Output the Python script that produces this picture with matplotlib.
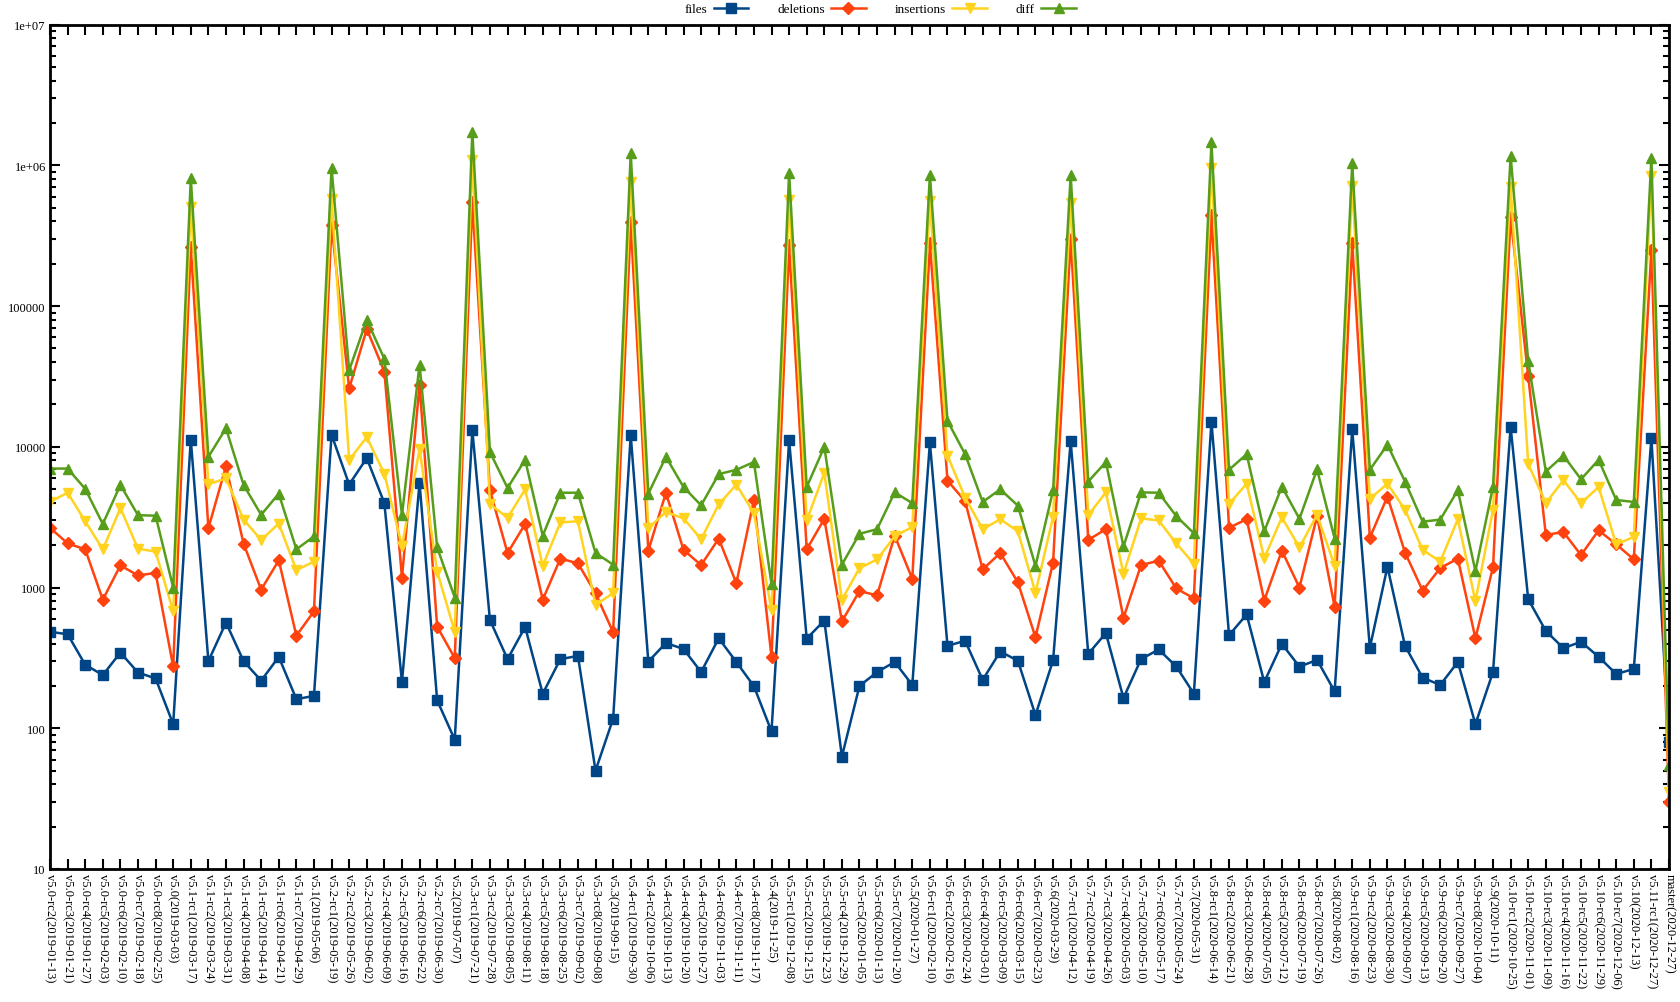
import matplotlib
matplotlib.use("Agg")
import matplotlib.pyplot as plt
from matplotlib.ticker import FixedLocator, FixedFormatter, LogLocator, NullFormatter

labels = [
    "v5.0-rc2(2019-01-13)", "v5.0-rc3(2019-01-21)", "v5.0-rc4(2019-01-27)", "v5.0-rc5(2019-02-03)",
    "v5.0-rc6(2019-02-10)", "v5.0-rc7(2019-02-18)", "v5.0-rc8(2019-02-25)", "v5.0(2019-03-03)",
    "v5.1-rc1(2019-03-17)", "v5.1-rc2(2019-03-24)", "v5.1-rc3(2019-03-31)", "v5.1-rc4(2019-04-08)",
    "v5.1-rc5(2019-04-14)", "v5.1-rc6(2019-04-21)", "v5.1-rc7(2019-04-29)", "v5.1(2019-05-06)",
    "v5.2-rc1(2019-05-19)", "v5.2-rc2(2019-05-26)", "v5.2-rc3(2019-06-02)", "v5.2-rc4(2019-06-09)",
    "v5.2-rc5(2019-06-16)", "v5.2-rc6(2019-06-22)", "v5.2-rc7(2019-06-30)", "v5.2(2019-07-07)",
    "v5.3-rc1(2019-07-21)", "v5.3-rc2(2019-07-28)", "v5.3-rc3(2019-08-05)", "v5.3-rc4(2019-08-11)",
    "v5.3-rc5(2019-08-18)", "v5.3-rc6(2019-08-25)", "v5.3-rc7(2019-09-02)", "v5.3-rc8(2019-09-08)",
    "v5.3(2019-09-15)",
    "v5.4-rc1(2019-09-30)", "v5.4-rc2(2019-10-06)", "v5.4-rc3(2019-10-13)", "v5.4-rc4(2019-10-20)",
    "v5.4-rc5(2019-10-27)", "v5.4-rc6(2019-11-03)", "v5.4-rc7(2019-11-11)", "v5.4-rc8(2019-11-17)",
    "v5.4(2019-11-25)",
    "v5.5-rc1(2019-12-08)", "v5.5-rc2(2019-12-15)", "v5.5-rc3(2019-12-23)", "v5.5-rc4(2019-12-29)",
    "v5.5-rc5(2020-01-05)", "v5.5-rc6(2020-01-13)", "v5.5-rc7(2020-01-20)", "v5.5(2020-01-27)",
    "v5.6-rc1(2020-02-10)", "v5.6-rc2(2020-02-16)", "v5.6-rc3(2020-02-24)", "v5.6-rc4(2020-03-01)",
    "v5.6-rc5(2020-03-09)", "v5.6-rc6(2020-03-15)", "v5.6-rc7(2020-03-23)", "v5.6(2020-03-29)",
    "v5.7-rc1(2020-04-12)", "v5.7-rc2(2020-04-19)", "v5.7-rc3(2020-04-26)", "v5.7-rc4(2020-05-03)",
    "v5.7-rc5(2020-05-10)", "v5.7-rc6(2020-05-17)", "v5.7-rc7(2020-05-24)", "v5.7(2020-05-31)",
    "v5.8-rc1(2020-06-14)", "v5.8-rc2(2020-06-21)", "v5.8-rc3(2020-06-28)", "v5.8-rc4(2020-07-05)",
    "v5.8-rc5(2020-07-12)", "v5.8-rc6(2020-07-19)", "v5.8-rc7(2020-07-26)", "v5.8(2020-08-02)",
    "v5.9-rc1(2020-08-16)", "v5.9-rc2(2020-08-23)", "v5.9-rc3(2020-08-30)", "v5.9-rc4(2020-09-07)",
    "v5.9-rc5(2020-09-13)", "v5.9-rc6(2020-09-20)", "v5.9-rc7(2020-09-27)", "v5.9-rc8(2020-10-04)",
    "v5.9(2020-10-11)",
    "v5.10-rc1(2020-10-25)", "v5.10-rc2(2020-11-01)", "v5.10-rc3(2020-11-09)", "v5.10-rc4(2020-11-16)",
    "v5.10-rc5(2020-11-22)", "v5.10-rc6(2020-11-29)", "v5.10-rc7(2020-12-06)", "v5.10(2020-12-13)",
    "v5.11-rc1(2020-12-27)", "master(2020-12-27)",
]

files = [485, 466, 283, 239, 345, 249, 226, 107,
         11270, 300, 564, 300, 218, 322, 161, 170,
         12190, 5400, 8320, 3980, 213, 5560, 158, 83,
         13100, 588, 310, 525, 176, 310, 327, 50, 117,
         12100, 298, 404, 366, 251, 436, 296, 199, 95,
         11120, 434, 583, 63, 200, 251, 296, 203,
         10740, 385, 419, 221, 351, 302, 124, 304,
         10960, 338, 475, 164, 310, 363, 275, 176,
         15070, 459, 644, 213, 398, 274, 306, 183,
         13300, 373, 1406, 385, 229, 203, 296, 107, 251,
         13870, 826, 492, 371, 412, 322, 243, 264,
         11530, 80]

deletions = [2660, 2060, 1870, 820, 1436, 1220, 1270, 275,
             264000, 2640, 7280, 2050, 966, 1563, 455, 678,
             376000, 26000, 68700, 34300, 1178, 27700, 528, 315,
             547000, 4920, 1760, 2830, 820, 1607, 1487, 912, 482,
             393000, 1830, 4720, 1853, 1445, 2230, 1075, 4190, 322,
             270000, 1866, 3080, 575, 944, 881, 2340, 1153,
             279000, 5750, 4120, 1346, 1760, 1089, 443, 1507,
             300000, 2180, 2600, 609, 1445, 1552, 986, 838,
             443000, 2660, 3060, 809, 1830, 1000, 3220, 728,
             279000, 2260, 4430, 1774, 951, 1375, 1607, 436, 1396,
             428000, 31700, 2370, 2480, 1702, 2550, 2030, 1585,
             251000, 30]

insertions = [4070, 4720, 2960, 1870, 3660, 1890, 1800, 678,
              510000, 5430, 5960, 3040, 2180, 2850, 1330, 1530,
              575000, 8090, 11700, 6450, 1960, 9660, 1300, 485,
              1090000, 3930, 3130, 4990, 1425, 2900, 2960, 754, 912,
              764000, 2640, 3450, 3100, 2210, 3900, 5390, 3380, 692,
              567000, 3000, 6530, 820, 1375, 1585, 2310, 2700,
              556000, 8670, 4360, 2600, 3060, 2510, 918, 3180,
              540000, 3270, 4750, 1253, 3100, 3000, 2060, 1476,
              966000, 3930, 5470, 1618, 3150, 1930, 3290, 1425,
              716000, 4270, 5470, 3580, 1853, 1530, 3060, 798, 3580,
              702000, 7540, 3980, 5800, 3980, 5180, 2030, 2290,
              837000, 35]

diff = [7010, 7010, 5030, 2830, 5360, 3270, 3240, 1000,
        809000, 8490, 13550, 5360, 3290, 4650, 1870, 2310,
        960000, 35000, 79800, 42200, 3270, 38400, 1930, 849,
        1740000, 9180, 5100, 8090, 2340, 4720, 4720, 1760, 1456,
        1220000, 4650, 8490, 5180, 3840, 6400, 6870, 7800, 1059,
        881000, 5180, 10000, 1456, 2410, 2600, 4750, 3980,
        855000, 15300, 8870, 4060, 4990, 3820, 1425, 4920,
        855000, 5670, 7800, 1960, 4750, 4720, 3220, 2430,
        1456000, 6870, 8870, 2510, 5210, 3080, 6920, 2230,
        1036000, 6870, 10350, 5670, 2940, 3040, 4920, 1309, 5210,
        1170000, 40700, 6680, 8670, 5880, 8090, 4190, 4060,
        1135000, 55]

y_ticks = [10, 100, 1000, 10000, 100000, 1000000, 10000000]
y_tick_labels = ["10", "100", "1000", "10000", "100000", "1e+06", "1e+07"]

series = [
    ("files", files, "#004586", "s", 7),
    ("deletions", deletions, "#ff420e", "D", 6.5),
    ("insertions", insertions, "#ffd320", "v", 7.5),
    ("diff", diff, "#579d1c", "^", 7.5),
]

plt.rcParams["font.family"] = ["Liberation Serif", "DejaVu Serif"]

fig = plt.figure(figsize=(16.8, 10.03), dpi=100)
ax = fig.add_axes([50 / 1680, 1 - 870 / 1003, (1669 - 50) / 1680, (870 - 25.7) / 1003])

x = list(range(len(labels)))
for name, vals, color, marker, ms in series:
    ax.plot(x, vals, color=color, lw=1.8, marker=marker, ms=ms,
            markeredgecolor=color, label=name)

ax.set_yscale("log")
ax.set_ylim(10, 1e7)
ax.set_xlim(0, len(labels) - 1)

ax.yaxis.set_major_locator(FixedLocator(y_ticks))
ax.yaxis.set_major_formatter(FixedFormatter(y_tick_labels))
ax.yaxis.set_minor_locator(LogLocator(base=10, subs=range(2, 10)))
ax.yaxis.set_minor_formatter(NullFormatter())

ax.set_xticks(x)
ax.set_xticklabels(labels, rotation=-90, ha="center", va="top", fontsize=9)
for t in ax.get_yticklabels():
    t.set_fontsize(9)

ax.tick_params(axis="both", which="both", direction="in", top=True, right=True, width=1.5)
ax.tick_params(axis="both", which="major", length=7, pad=3)
ax.tick_params(axis="both", which="minor", length=4)
for sp in ax.spines.values():
    sp.set_linewidth(2)

leg = ax.legend(loc="center", bbox_to_anchor=(880 / 1680, 1 - 10 / 1003),
                bbox_transform=fig.transFigure, ncol=4, frameon=False,
                markerfirst=False, handlelength=2.6, handletextpad=0.5,
                columnspacing=2.2, fontsize=9.5, borderpad=0)

fig.savefig("out.png", dpi=100, facecolor="white")
